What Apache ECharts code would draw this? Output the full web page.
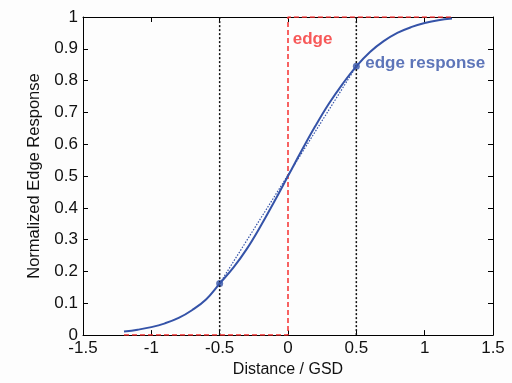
<!DOCTYPE html>
<html>
<head>
<meta charset="utf-8">
<script src="https://cdn.jsdelivr.net/npm/echarts@6/dist/echarts.min.js"></script>
<style>
  html, body { margin: 0; padding: 0; background: #fdfdfd; }
  #chart { width: 512px; height: 383px; }
</style>
</head>
<body>
<div id="chart"></div>
<script>
// edge response curve
const distance = [-1.2, -1.1, -1.0, -0.9, -0.8, -0.7, -0.6, -0.5, -0.4, -0.3, -0.2, -0.1, 0, 0.1, 0.2, 0.3, 0.4, 0.5, 0.6, 0.7, 0.8, 0.9, 1.0, 1.1, 1.2];
const response = [0.011, 0.017, 0.025, 0.037, 0.054, 0.079, 0.112, 0.162, 0.212, 0.272, 0.343, 0.42, 0.5, 0.58, 0.657, 0.728, 0.79, 0.845, 0.89, 0.924, 0.95, 0.968, 0.981, 0.99, 0.995];

// ideal edge (step)
const edgeX = [-1.2, 0, 0, 1.2];
const edgeY = [0, 0, 1, 1];

// sample points at +-0.5 GSD
const sampleX = [-0.5, 0.5];
const sampleY = [0.162, 0.845];

const blue = '#3553a8';
const red = '#f52e2e';
const font = 'Liberation Sans, Arial, sans-serif';

function zip(xs, ys) {
    return xs.map((x, i) => [x, ys[i]]);
}

const chart = echarts.init(document.getElementById('chart'));

const axisLine = { show: true, onZero: false, lineStyle: { color: '#000', width: 1 } };
const axisTick = { show: true, inside: true, length: 5, lineStyle: { color: '#000' } };
const labelStyle = { color: '#111', fontSize: 17, fontFamily: font };

chart.setOption({
    animation: false,
    backgroundColor: '#fdfdfd',
    grid: { left: 83, right: 19, top: 17, bottom: 44 },
    xAxis: [{
        type: 'value', min: -1.5, max: 1.5, interval: 0.5,
        axisLine: axisLine, axisTick: axisTick, splitLine: { show: false },
        axisLabel: Object.assign({ margin: 5, formatter: v => String(v) }, labelStyle),
        name: 'Distance / GSD', nameLocation: 'middle', nameGap: 25,
        nameTextStyle: { color: '#111', fontSize: 16, fontFamily: font }
    }, {
        type: 'value', position: 'top', min: -1.5, max: 1.5, interval: 0.5,
        axisLine: axisLine, axisTick: axisTick, axisLabel: { show: false }, splitLine: { show: false }
    }],
    yAxis: [{
        type: 'value', min: 0, max: 1, interval: 0.1,
        axisLine: axisLine, axisTick: axisTick, splitLine: { show: false },
        axisLabel: Object.assign({ margin: 5, formatter: v => String(Math.round(v * 10) / 10) }, labelStyle),
        name: 'Normalized Edge Response', nameLocation: 'middle', nameGap: 40,
        nameTextStyle: { color: '#111', fontSize: 16.5, fontFamily: font }
    }, {
        type: 'value', position: 'right', min: 0, max: 1, interval: 0.1,
        axisLine: axisLine, axisTick: axisTick, axisLabel: { show: false }, splitLine: { show: false }
    }],
    series: [
        {
            // black dotted guides at -0.5 and 0.5
            type: 'line', data: [[sampleX[0], 0], [sampleX[0], 1]], symbol: 'none',
            lineStyle: { color: '#111', width: 1.5, type: [2, 2] }
        },
        {
            type: 'line', data: [[sampleX[1], 0], [sampleX[1], 1]], symbol: 'none',
            lineStyle: { color: '#111', width: 1.5, type: [2, 2] }
        },
        {
            // ideal edge
            type: 'line', data: zip(edgeX, edgeY), symbol: 'none',
            lineStyle: { color: red, width: 1.5, type: [5, 3] }
        },
        {
            // straight line between samples
            type: 'line', data: zip(sampleX, sampleY), symbol: 'none',
            lineStyle: { color: blue, width: 1.2, type: [1.5, 1.5] }
        },
        {
            // edge response curve
            type: 'line', data: zip(distance, response), symbol: 'none', smooth: 0.4,
            lineStyle: { color: blue, width: 2 }
        },
        {
            type: 'scatter', data: zip(sampleX, sampleY), symbolSize: 7,
            itemStyle: { color: blue }
        },
        {
            // text labels
            type: 'scatter', symbolSize: 0, silent: true,
            data: [
                { value: [0.035, 0.929], label: { formatter: 'edge', color: red } },
                { value: [0.565, 0.854], label: { formatter: 'edge response', color: blue } }
            ],
            label: { show: true, position: 'right', distance: 0, fontSize: 17, fontWeight: 'bold', fontFamily: font }
        }
    ]
});
</script>
</body>
</html>
